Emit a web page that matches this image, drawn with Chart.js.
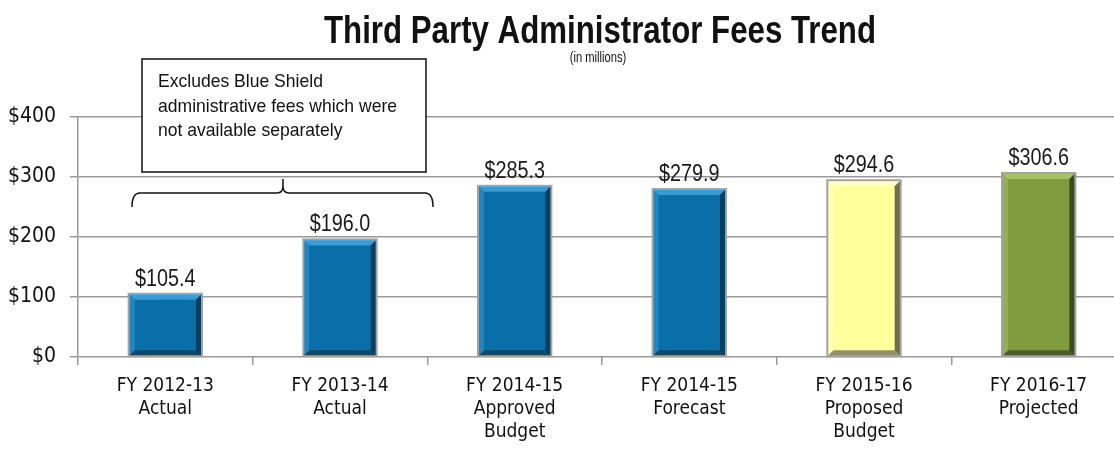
<!DOCTYPE html>
<html>
<head>
<meta charset="utf-8">
<script src="https://cdn.jsdelivr.net/npm/chart.js@4.4.1/dist/chart.umd.min.js"></script>
<style>
  html, body { margin: 0; padding: 0; background: #fff; overflow: hidden; }
  #wrap { position: relative; width: 1126px; height: 453px; }
</style>
</head>
<body>
<div id="wrap"><canvas id="feesChart"></canvas></div>
<script>
const categories = [
    ['FY 2012-13', 'Actual'],
    ['FY 2013-14', 'Actual'],
    ['FY 2014-15', 'Approved', 'Budget'],
    ['FY 2014-15', 'Forecast'],
    ['FY 2015-16', 'Proposed', 'Budget'],
    ['FY 2016-17', 'Projected']
];
const fees = [105.4, 196.0, 285.3, 279.9, 294.6, 306.6];
const yTicks = [0, 100, 200, 300, 400];
const noteLines = ['Excludes Blue Shield', 'administrative fees which were', 'not available separately'];

const FONT = "'DejaVu Sans Condensed', 'Liberation Sans', sans-serif";
const WIDE = "'Liberation Sans', Arial, sans-serif";

// base / light / dark shades per bar
const shades = [
    ['#0a6fa8', '#3d9bd3', '#073f60'],
    ['#0a6fa8', '#3d9bd3', '#073f60'],
    ['#0a6fa8', '#3d9bd3', '#073f60'],
    ['#0a6fa8', '#3d9bd3', '#073f60'],
    ['#ffff9c', '#ffffd0', '#6e6e48'],
    ['#7f9c3e', '#a6c266', '#3c4a1e']
];

// narrow-looking text: draw with a horizontal squeeze
function narrowText(ctx, s, x, y, sx) {
    ctx.save();
    ctx.translate(x, y);
    ctx.scale(sx, 1);
    ctx.fillText(s, 0, 0);
    ctx.restore();
}

const bevelPlugin = {
    id: 'bevel',
    afterDatasetsDraw(chart) {
        const ctx = chart.ctx;
        const meta = chart.getDatasetMeta(0);
        meta.data.forEach((bar, i) => {
            const l = bar.x - bar.width / 2, r = bar.x + bar.width / 2;
            const t = bar.y, b = bar.base, d = 6;
            const [base, light, dark] = shades[i];
            ctx.save();
            ctx.fillStyle = light;
            ctx.beginPath();
            ctx.moveTo(l, t); ctx.lineTo(r, t); ctx.lineTo(r - d, t + d); ctx.lineTo(l + d, t + d); ctx.closePath();
            ctx.fill();
            ctx.fillStyle = dark;
            ctx.beginPath();
            ctx.moveTo(r, t); ctx.lineTo(r, b); ctx.lineTo(r - d, b - d); ctx.lineTo(r - d, t + d); ctx.closePath();
            ctx.fill();
            ctx.globalAlpha = 0.75;
            ctx.beginPath();
            ctx.moveTo(l, b); ctx.lineTo(r, b); ctx.lineTo(r - d, b - d); ctx.lineTo(l + d, b - d); ctx.closePath();
            ctx.fill();
            ctx.globalAlpha = 0.5;
            ctx.fillStyle = light;
            ctx.beginPath();
            ctx.moveTo(l, t); ctx.lineTo(l + d, t + d); ctx.lineTo(l + d, b - d); ctx.lineTo(l, b); ctx.closePath();
            ctx.fill();
            ctx.globalAlpha = 1;
            ctx.strokeStyle = '#a3a3a3';
            ctx.lineWidth = 2;
            ctx.strokeRect(l, t, r - l, b - t);
            // value label
            ctx.fillStyle = '#1a1a1a';
            ctx.font = '23px ' + WIDE;
            ctx.textAlign = 'center';
            ctx.textBaseline = 'alphabetic';
            narrowText(ctx, '$' + fees[i].toFixed(1), bar.x, t - 8, 0.86);
            ctx.restore();
        });
    }
};

const notesPlugin = {
    id: 'notes',
    afterDraw(chart) {
        const ctx = chart.ctx;
        ctx.save();
        ctx.fillStyle = '#111';
        ctx.textAlign = 'center';
        ctx.textBaseline = 'alphabetic';
        const title = 'Third Party Administrator Fees Trend';
        ctx.font = 'bold 38px ' + WIDE;
        narrowText(ctx, title, 600, 43, 552 / ctx.measureText(title).width);
        ctx.font = '14px ' + WIDE;
        narrowText(ctx, '(in millions)', 598, 62, 0.8);

        // callout box
        ctx.fillStyle = '#fff';
        ctx.fillRect(142, 59, 284, 113);
        ctx.strokeStyle = '#111';
        ctx.lineWidth = 1.5;
        ctx.strokeRect(142, 59, 284, 113);
        ctx.fillStyle = '#111';
        ctx.textAlign = 'left';
        ctx.font = '19px ' + WIDE;
        const sx = 239 / ctx.measureText(noteLines[1]).width;
        noteLines.forEach((s, k) => narrowText(ctx, s, 158, 87 + k * 24.5, sx));

        // brace
        ctx.beginPath();
        ctx.moveTo(132, 207);
        ctx.quadraticCurveTo(132, 193, 140, 193);
        ctx.lineTo(277, 193);
        ctx.quadraticCurveTo(283, 193, 283, 186);
        ctx.lineTo(283, 179);
        ctx.moveTo(283, 186);
        ctx.quadraticCurveTo(283, 193, 289, 193);
        ctx.lineTo(425, 193);
        ctx.quadraticCurveTo(433, 193, 433, 207);
        ctx.stroke();
        ctx.restore();
    }
};

new Chart(document.getElementById('feesChart'), {
    type: 'bar',
    data: {
        labels: categories,
        datasets: [{
            data: fees,
            backgroundColor: shades.map(s => s[0]),
            borderWidth: 0,
            barPercentage: 0.84,
            categoryPercentage: 0.5
        }]
    },
    options: {
        responsive: true,
        maintainAspectRatio: false,
        animation: false,
        layout: { padding: { top: 117, right: 0, left: 0, bottom: 0 } },
        plugins: { legend: { display: false }, tooltip: { enabled: false } },
        scales: {
            x: {
                afterFit: s => { s.height = 96; },
                border: { display: false },
                grid: { drawOnChartArea: false, drawTicks: true, tickLength: 8, color: '#9a9a9a', lineWidth: 1.5, offset: true },
                ticks: { color: '#111', font: { family: FONT, size: 19 }, padding: 10, maxRotation: 0, autoSkip: false }
            },
            y: {
                min: 0,
                max: 400,
                afterFit: s => { s.width = 78; },
                afterBuildTicks: s => { s.ticks = yTicks.map(v => ({ value: v })); },
                border: { display: true, color: '#9a9a9a', width: 1.5 },
                grid: { color: '#9a9a9a', lineWidth: 1.5, tickLength: 8 },
                ticks: { color: '#111', font: { family: FONT, size: 21 }, padding: 14, callback: v => '$' + v }
            }
        }
    },
    plugins: [bevelPlugin, notesPlugin]
});
</script>
</body>
</html>
